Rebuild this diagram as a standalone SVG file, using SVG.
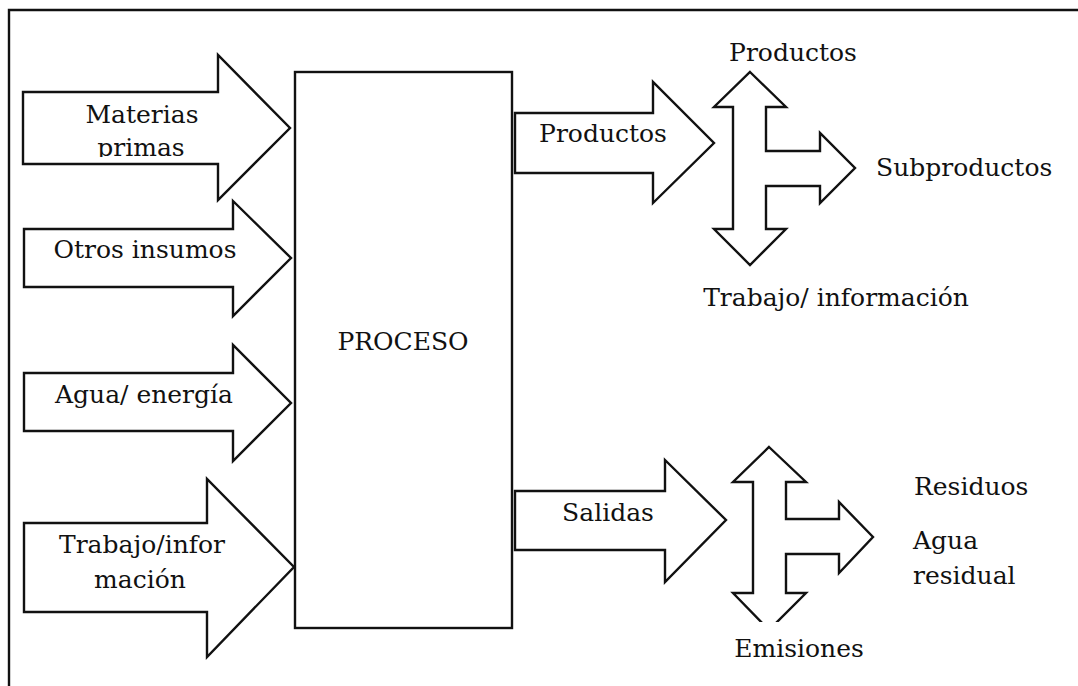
<svg xmlns="http://www.w3.org/2000/svg" width="1078" height="686" viewBox="0 0 1078 686">
  <style>
    .shape { fill: #ffffff; stroke: #111111; stroke-width: 2.4; stroke-linejoin: miter; }
    .frame { fill: none; stroke: #111111; stroke-width: 2.4; }
    .lbl { font-family: "DejaVu Serif", "Liberation Serif", serif; font-size: 25px; fill: #111111; }
    .mid { text-anchor: middle; }
  </style>
  <defs>
    <clipPath id="clip-primas">
      <rect x="0" y="0" width="300" height="157"/>
    </clipPath>
    <clipPath id="clip-salidas-split">
      <rect x="700" y="400" width="200" height="222"/>
    </clipPath>
  </defs>

  <rect width="1078" height="686" fill="#ffffff"/>

  <!-- page frame, open at right and bottom -->
  <path class="frame" d="M9,686 V10 H1078"/>

  <!-- central process block -->
  <g id="process">
    <rect class="shape" x="295" y="72" width="217" height="556"/>
    <text class="lbl mid" x="403" y="350">PROCESO</text>
  </g>

  <g id="connectors">
    <!-- inputs -->
    <g id="in-materias">
      <polygon class="shape" points="23,92 218,92 218,55 290,128 218,200 218,164 23,164"/>
      <text class="lbl mid" x="142" y="123">Materias</text>
      <text class="lbl mid" x="141" y="156" clip-path="url(#clip-primas)">primas</text>
    </g>
    <g id="in-insumos">
      <polygon class="shape" points="24,229 233,229 233,201 291,258 233,316 233,287 24,287"/>
      <text class="lbl mid" x="145" y="258">Otros insumos</text>
    </g>
    <g id="in-agua">
      <polygon class="shape" points="24,373 233,373 233,345 291,403 233,461 233,431 24,431"/>
      <text class="lbl mid" x="144" y="403">Agua/ energía</text>
    </g>
    <g id="in-trabajo">
      <polygon class="shape" points="24,523 207,523 207,479 294,567 207,657 207,612 24,612"/>
      <text class="lbl mid" x="142" y="553">Trabajo/infor</text>
      <text class="lbl mid" x="140" y="588">mación</text>
    </g>

    <!-- outputs -->
    <g id="out-productos">
      <polygon class="shape" points="515,113 653,113 653,82 714,143 653,203 653,173 515,173"/>
      <text class="lbl mid" x="603" y="142">Productos</text>
    </g>
    <g id="split-productos">
      <polygon class="shape" points="750,72 786,107 766,107 766,151 820,151 820,133 855,168 820,203 820,186 766,186 766,229 786,229 750,265 714,229 733,229 733,107 714,107"/>
    </g>
    <g id="out-salidas">
      <polygon class="shape" points="515,491 665,491 665,460 726,520 665,582 665,550 515,550"/>
      <text class="lbl mid" x="608" y="521">Salidas</text>
    </g>
    <g id="split-salidas">
      <polygon class="shape" clip-path="url(#clip-salidas-split)" points="769,447 806,482 786,482 786,519 839,519 839,502 873,537 839,573 839,554 786,554 786,593 806,593 769,630 733,593 753,593 753,482 733,482"/>
    </g>
  </g>

  <!-- destination labels -->
  <g id="labels-productos">
    <text class="lbl mid" x="793" y="61">Productos</text>
    <text class="lbl" x="876" y="176">Subproductos</text>
    <text class="lbl mid" x="836" y="306">Trabajo/ información</text>
  </g>
  <g id="labels-salidas">
    <text class="lbl" x="914" y="495">Residuos</text>
    <text class="lbl" x="913" y="549">Agua</text>
    <text class="lbl" x="913" y="584">residual</text>
    <text class="lbl mid" x="799" y="657">Emisiones</text>
  </g>
</svg>
